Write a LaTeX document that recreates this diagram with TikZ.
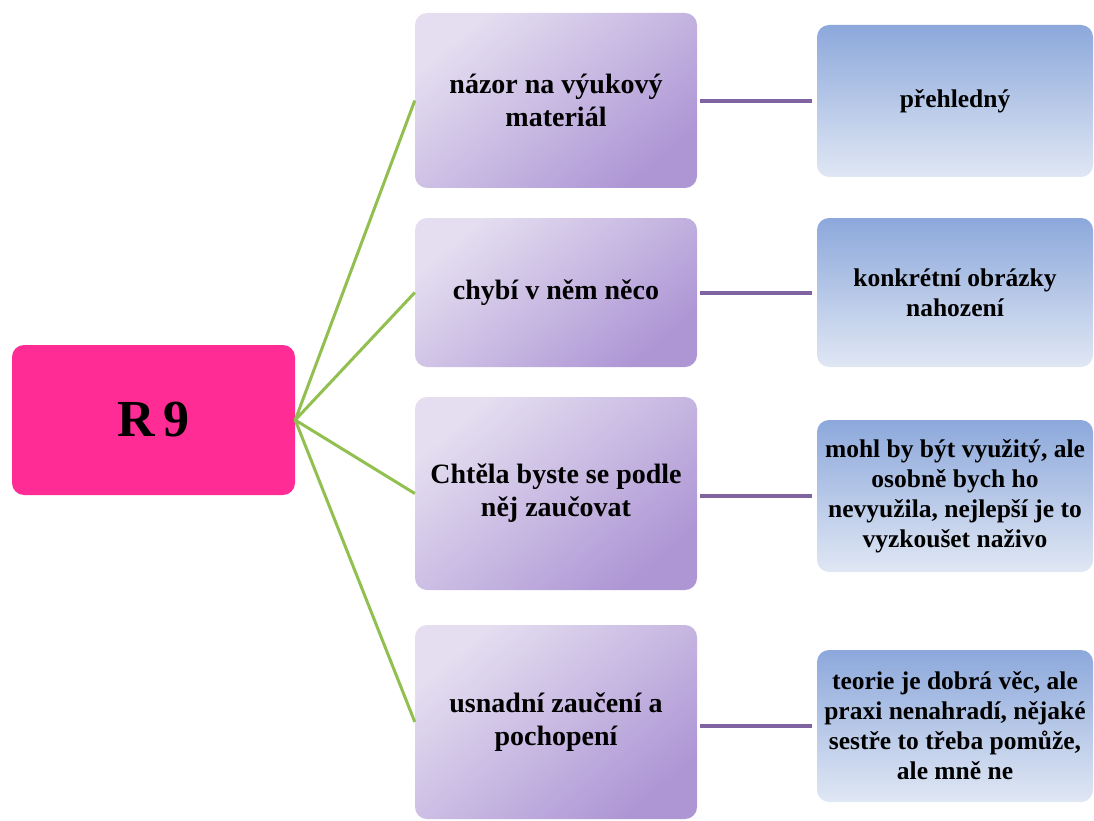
\documentclass[tikz,border=0pt]{standalone}
\usepackage{fontspec}
\setmainfont{Liberation Serif}
\definecolor{rootpink}{RGB}{255,44,149}
\definecolor{lavlight}{RGB}{228,222,240}
\definecolor{lavdark}{RGB}{174,150,213}
\definecolor{bluetop}{RGB}{140,168,219}
\definecolor{bluebot}{RGB}{224,231,244}
\definecolor{branchgreen}{RGB}{146,192,80}
\definecolor{linkpurple}{RGB}{128,100,162}
\tikzset{
  rootbox/.style={fill=rootpink, rounded corners=12pt, minimum width=283pt,
    minimum height=150pt, inner sep=0pt, font=\fontsize{52}{60}\selectfont\bfseries},
  topicbox/.style={rounded corners=12pt, minimum width=282pt, inner sep=0pt,
    top color=lavlight, bottom color=lavdark, shading angle=40,
    align=center, font=\fontsize{28}{33}\selectfont\bfseries},
  answerbox/.style={rounded corners=12pt, minimum width=276pt, inner sep=0pt,
    top color=bluetop, bottom color=bluebot,
    align=center, font=\fontsize{25.5}{30}\selectfont\bfseries},
  branch/.style={draw=branchgreen, line width=3pt},
  link/.style={draw=linkpurple, line width=4pt, shorten <=3pt, shorten >=5pt}
}
\begin{document}
\begin{tikzpicture}[x=1pt, y=-1pt]
  \useasboundingbox (0,0) rectangle (1094,821);

  % root
  \node[rootbox] (root) at (153.5,420) {R\,9};

  % questions
  \node[topicbox, minimum height=175pt] (q1) at (556,100.5) {názor na výukový\\materiál};
  \node[topicbox, minimum height=149pt] (q2) at (556,292.5) {chybí v něm něco};
  \node[topicbox, minimum height=193pt] (q3) at (556,493.5) {Chtěla byste se podle\\něj zaučovat};
  \node[topicbox, minimum height=194pt] (q4) at (556,722) {usnadní zaučení a\\pochopení};

  % answers
  \node[answerbox, minimum height=152pt] (a1) at (955,101) {přehledný};
  \node[answerbox, minimum height=149pt] (a2) at (955,292.5) {konkrétní obrázky\\nahození};
  \node[answerbox, minimum height=152pt] (a3) at (955,496) {mohl by být využitý, ale\\osobně bych ho\\nevyužila, nejlepší je to\\vyzkoušet naživo};
  \node[answerbox, minimum height=152pt] (a4) at (955,726) {teorie je dobrá věc, ale\\praxi nenahradí, nějaké\\sestře to třeba pomůže,\\ale mně ne};

  % branches from the root
  \foreach \q in {q1,q2,q3,q4}
    \draw[branch] (root.east) -- (\q.west);

  % links from questions to answers
  \foreach \q/\a in {q1/a1,q2/a2,q3/a3,q4/a4}
    \draw[link] (\a.west -| \q.east) -- (\a.west);
\end{tikzpicture}
\end{document}
